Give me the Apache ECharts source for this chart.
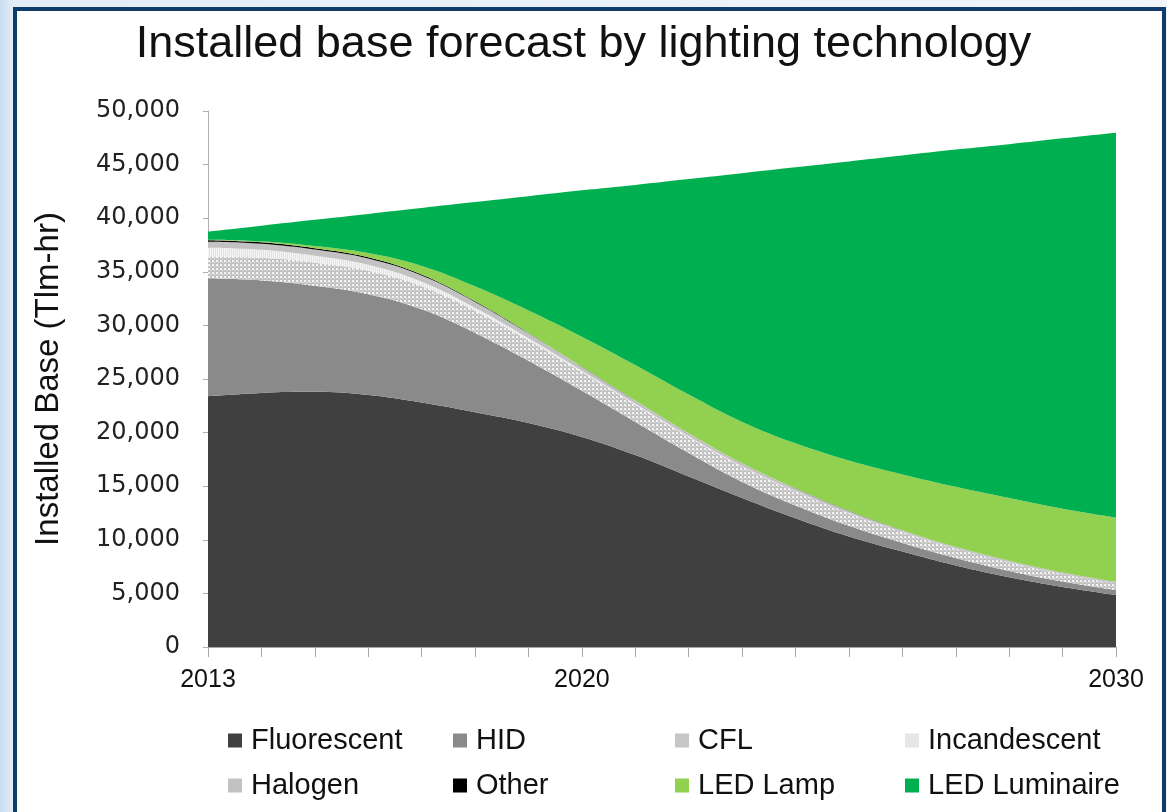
<!DOCTYPE html>
<html><head><meta charset="utf-8">
<script src="https://cdn.jsdelivr.net/npm/echarts@6/dist/echarts.min.js"></script>
<style>
html,body{margin:0;padding:0;width:1167px;height:812px;overflow:hidden;}
body{background:linear-gradient(90deg,#c9def1 0px,#e3edf7 13px,#f0f5fb 100%);}
#panel{position:absolute;left:13px;top:7px;width:1145px;height:820px;background:#fff;border:4px solid #0f3d6b;border-bottom:none;}
#chart{position:absolute;left:0;top:0;width:1167px;height:812px;}
</style></head><body><div id="panel"></div><div id="chart"></div>
<script>
const years = ['2013','2014','2015','2016','2017','2018','2019','2020','2021','2022','2023','2024','2025','2026','2027','2028','2029','2030'];
const shownYears = ['2013','2020','2030'];
const fluorescent = [23400,23700,23800,23500,22800,21900,20900,19600,17900,15900,13900,12000,10300,8900,7600,6500,5600,4850];
const hid = [11000,10500,9900,9400,8700,7400,5800,4300,3100,2200,1500,1200,1000,800,700,600,500,450];
const cfl = [2000,2100,2150,2200,2150,2050,1900,1750,1600,1500,1420,1320,1170,1010,880,790,710,640];
const incandescent = [850,750,650,550,420,300,200,130,90,60,40,30,20,15,10,10,5,5];
const halogen = [550,560,570,580,580,540,460,350,300,280,280,240,200,170,155,145,130,120];
const other = [150,140,130,120,100,60,40,20,10,10,10,10,10,5,5,5,5,5];
const ledLamp = [50,100,200,400,800,1400,2100,2800,3300,3600,3850,4200,4700,5200,5600,5850,5950,6000];
const ledLuminaire = [750,1450,2450,3650,5400,7850,10650,13650,16800,20100,23200,25750,27900,29750,31450,33000,34550,35900];

function dotPattern(){
  const c=document.createElement('canvas');c.width=4;c.height=4;
  const g=c.getContext('2d');g.fillStyle='#c2c2c2';g.fillRect(0,0,4,4);
  g.fillStyle='#f4f4f4';g.fillRect(0,0,2,2);g.fillRect(2,2,1,1);
  return {image:c,repeat:'repeat'};
}
function stripePattern(){
  const c=document.createElement('canvas');c.width=4;c.height=4;
  const g=c.getContext('2d');g.fillStyle='#e2e2e2';g.fillRect(0,0,4,4);
  g.fillStyle='#f6f6f6';g.fillRect(0,0,1,4);g.fillRect(2,0,1,4);
  return {image:c,repeat:'repeat'};
}
const cflColor = dotPattern();
const incColor = stripePattern();

const seriesDefs = [
  {name:'Fluorescent', data:fluorescent, color:'#404040'},
  {name:'HID', data:hid, color:'#8a8a8a'},
  {name:'CFL', data:cfl, color:cflColor},
  {name:'Incandescent', data:incandescent, color:incColor},
  {name:'Halogen', data:halogen, color:'#c2c2c2'},
  {name:'Other', data:other, color:'#000000'},
  {name:'LED Lamp', data:ledLamp, color:'#92d050'},
  {name:'LED Luminaire', data:ledLuminaire, color:'#00b050'}
];
const legendColor = {'CFL':'#c6c6c6','Incandescent':'#e6e6e6'};
const legendPos = [[223,721],[448,721],[670,721],[900,721],[223,766],[448,766],[670,766],[900,766]];
const baseFont = "'Liberation Sans',Arial,sans-serif";

const chart = echarts.init(document.getElementById('chart'),null,{renderer:'canvas'});
chart.setOption({
  animation:false,
  title:{text:'Installed base forecast by lighting technology',left:'center',top:17,
    textStyle:{fontFamily:baseFont,fontSize:45,fontWeight:'normal',color:'#111'}},
  legend: seriesDefs.map((s,i)=>({
    left:legendPos[i][0], top:legendPos[i][1], icon:'rect', itemWidth:14, itemHeight:14, itemGap:10,
    data:[{name:s.name,itemStyle:{color: legendColor[s.name]||s.color}}],
    textStyle:{fontFamily:baseFont,fontSize:29,color:'#111',padding:[0,0,0,4]}
  })),
  grid:{left:208,right:51,top:111,bottom:165,containLabel:false},
  xAxis:{type:'category',data:years,boundaryGap:false,
    axisLine:{lineStyle:{color:'#a8a8a8',width:1}},
    axisTick:{show:true,interval:0,length:10,lineStyle:{color:'#a8a8a8'}},
    axisLabel:{interval:(i,v)=>shownYears.includes(v),margin:21,
      fontFamily:baseFont,fontSize:25,color:'#111'},
    splitLine:{show:false}},
  yAxis:{type:'value',min:0,max:50000,interval:5000,
    name:'Installed Base (Tlm-hr)',nameLocation:'middle',nameRotate:90,nameGap:143,
    nameTextStyle:{fontFamily:baseFont,fontSize:33,color:'#111'},
    axisLine:{show:true,lineStyle:{color:'#b0b0b0'}},
    axisTick:{show:true,length:5,lineStyle:{color:'#b0b0b0'}},
    axisLabel:{margin:28,fontFamily:'DejaVu Sans',fontSize:24,color:'#222',
      formatter:v=>v.toLocaleString('en-US')},
    splitLine:{show:false}},
  series: seriesDefs.map(s=>({
    name:s.name,type:'line',stack:'total',smooth:0.4,symbol:'none',
    data:s.data,
    lineStyle:{width:0},
    itemStyle:{color:s.color},
    areaStyle:{color:s.color,opacity:1}
  }))
});
</script></body></html>
